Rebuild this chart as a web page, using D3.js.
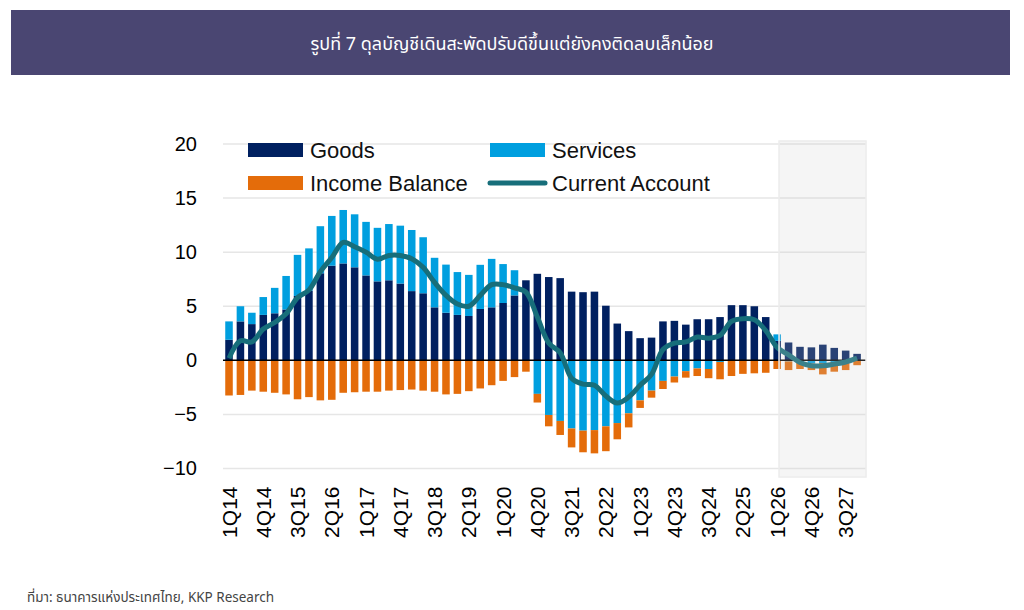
<!DOCTYPE html>
<html>
<head>
<meta charset="utf-8">
<script src="https://cdn.jsdelivr.net/npm/d3@7"></script>
<style>
  body { margin: 0; background: #fff; }
  svg { display: block; }
  text { font-family: "Liberation Sans", Arial, sans-serif; }
  .thai { font-family: "Noto Sans Thai", "Noto Sans", "DejaVu Sans", sans-serif; }
</style>
</head>
<body>
<script>
// quarters 1Q14 .. 4Q27
var quarters = [
  "1Q14","2Q14","3Q14","4Q14","1Q15","2Q15","3Q15","4Q15",
  "1Q16","2Q16","3Q16","4Q16","1Q17","2Q17","3Q17","4Q17",
  "1Q18","2Q18","3Q18","4Q18","1Q19","2Q19","3Q19","4Q19",
  "1Q20","2Q20","3Q20","4Q20","1Q21","2Q21","3Q21","4Q21",
  "1Q22","2Q22","3Q22","4Q22","1Q23","2Q23","3Q23","4Q23",
  "1Q24","2Q24","3Q24","4Q24","1Q25","2Q25","3Q25","4Q25",
  "1Q26","2Q26","3Q26","4Q26","1Q27","2Q27","3Q27","4Q27"
];
var tickLabels = ["1Q14","4Q14","3Q15","2Q16","1Q17","4Q17","3Q18","2Q19","1Q20","4Q20",
  "3Q21","2Q22","1Q23","4Q23","3Q24","2Q25","1Q26","4Q26","3Q27"];

var goods = [1.9,3.6,3.35,4.2,4.35,4.7,5.95,6.45, 8.05,8.75,8.96,8.6,7.85,7.3,7.4,7.1,
  6.4,6.2,4.9,4.4,4.2,4.1,4.75,4.9, 5.3,6.0,7.4,8.0,7.7,7.6,6.35,6.3,
  6.35,5.05,3.4,2.7,2.05,2.1,3.6,3.65, 3.3,3.8,3.8,4.0,5.1,5.1,5.0,4.0,
  1.8,1.65,1.25,1.2,1.45,1.15,0.9,0.6];
var services = [1.7,1.4,1.05,1.65,2.35,3.1,3.8,3.9, 4.35,4.6,4.94,4.9,4.95,4.95,5.2,5.35,
  5.65,5.18,4.58,4.45,3.96,3.8,4.08,4.48, 3.6,2.33,0,-3.1,-5.05,-5.6,-6.3,-6.5,
  -6.45,-6.1,-5.8,-4.9,-3.7,-2.8,-1.9,-1.5, -1.0,-0.75,-0.8,-0.15,-0.05,0,0,0,
  0.6,-0.1,-0.2,-0.3,-0.25,-0.15,-0.1,0];
var income = [-3.25,-3.2,-2.8,-2.9,-3.0,-3.15,-3.6,-3.4, -3.7,-3.65,-3.0,-2.95,-2.9,-2.9,-2.8,-2.75,
  -2.7,-2.8,-2.9,-3.15,-3.1,-2.85,-2.6,-2.3, -1.9,-1.55,-1.05,-0.8,-1.05,-1.3,-1.75,-2.0,
  -2.15,-2.3,-1.5,-1.3,-0.7,-0.65,-0.75,-0.55, -0.6,-0.7,-0.85,-1.6,-1.4,-1.25,-1.2,-1.15,
  -0.8,-0.8,-0.6,-0.6,-1.05,-0.9,-0.8,-0.45];
var currentAccount = [0.2,1.8,1.7,2.9,3.5,4.3,5.8,6.5, 8.2,9.5,10.9,10.5,10.0,9.35,9.7,9.7,
  9.4,8.6,7.2,6.0,5.2,5.0,6.0,7.0, 7.0,6.7,6.3,4.0,1.6,0.7,-1.65,-2.2,
  -2.3,-3.3,-3.95,-3.4,-2.3,-1.3,1.0,1.6, 1.7,2.15,2.05,2.3,3.6,3.85,3.75,2.75,
  1.2,0.5,-0.2,-0.5,-0.5,-0.35,-0.15,0.2];
var yTicks = [-10,-5,0,5,10,15,20];
var forecastStart = "1Q26";

var svg = d3.select("body").append("svg")
    .attr("width", 1024)
    .attr("height", 610);

// title band
svg.append("rect")
    .attr("x", 11).attr("y", 10)
    .attr("width", 999).attr("height", 65)
    .attr("fill", "#4a4672");
svg.append("text")
    .attr("class", "thai")
    .attr("x", 512).attr("y", 50)
    .attr("text-anchor", "middle")
    .attr("fill", "#fff")
    .style("font-size", "18px")
    .text("รูปที่ 7 ดุลบัญชีเดินสะพัดปรับดีขึ้นแต่ยังคงติดลบเล็กน้อย");

var x = d3.scaleBand()
    .domain(quarters)
    .range([223.3, 862.8])
    .paddingInner(0.34)
    .paddingOuter(0.17);

var y = d3.scaleLinear()
    .domain([-10, 20])
    .range([468.5, 144]);

var left = 223, right = 866;

// gridlines
svg.selectAll("line.grid")
    .data(yTicks.filter(function(d) { return d !== 0; }))
    .enter()
    .append("line")
    .attr("class", "grid")
    .attr("x1", left).attr("x2", right)
    .attr("y1", function(d) { return y(d); })
    .attr("y2", function(d) { return y(d); })
    .attr("stroke", "#e6e6e6")
    .attr("stroke-width", 1.5);

// stacked bars
var rows = quarters.map(function(q, i) {
    return { q: q, goods: goods[i], services: services[i], income: income[i] };
});
var keys = ["goods", "services", "income"];
var colors = { goods: "#002060", services: "#009fdf", income: "#e46c0a" };

var series = d3.stack()
    .keys(keys)
    .offset(d3.stackOffsetDiverging)(rows);

svg.selectAll("g.series")
    .data(series)
    .enter()
    .append("g")
    .attr("class", "series")
    .attr("fill", function(s) { return colors[s.key]; })
    .selectAll("rect")
    .data(function(s) { return s; })
    .enter()
    .append("rect")
    .attr("x", function(d) { return x(d.data.q); })
    .attr("width", x.bandwidth())
    .attr("y", function(d) { return y(Math.max(d[0], d[1])); })
    .attr("height", function(d) { return Math.abs(y(d[0]) - y(d[1])); });

// zero line
svg.append("line")
    .attr("x1", left).attr("x2", right)
    .attr("y1", y(0)).attr("y2", y(0))
    .attr("stroke", "#000")
    .attr("stroke-width", 1.5);

// current account line
var line = d3.line()
    .x(function(d, i) { return x(quarters[i]) + x.bandwidth() / 2; })
    .y(function(d) { return y(d); })
    .curve(d3.curveCatmullRom);

svg.append("path")
    .datum(currentAccount)
    .attr("d", line)
    .attr("fill", "none")
    .attr("stroke", "#176e7a")
    .attr("stroke-width", 5)
    .attr("stroke-linejoin", "round");

// forecast shading
var fx = x(forecastStart) + x.bandwidth() * 0.75;
svg.append("rect")
    .attr("x", fx).attr("y", 141)
    .attr("width", right - fx).attr("height", 336)
    .attr("fill", "#cfcfcf")
    .attr("fill-opacity", 0.2)
    .attr("stroke", "#ececec")
    .attr("stroke-width", 1.5);

// y axis
var yAxis = svg.append("g")
    .attr("transform", "translate(" + left + ",0)")
    .call(d3.axisLeft(y).tickValues(yTicks).tickSize(0).tickPadding(26));
yAxis.select(".domain").remove();
yAxis.selectAll("text")
    .style("font-size", "20px")
    .style("font-family", "'Liberation Sans', Arial, sans-serif")
    .attr("fill", "#000");

// x axis
var xAxis = svg.append("g")
    .attr("transform", "translate(0," + y(-10) + ")")
    .call(d3.axisBottom(x).tickValues(tickLabels).tickSize(0));
xAxis.select(".domain").remove();
xAxis.selectAll("text")
    .attr("transform", "rotate(-90)")
    .attr("x", -18)
    .attr("y", 0)
    .attr("dy", "0.36em")
    .attr("text-anchor", "end")
    .style("font-size", "21px")
    .style("font-family", "'Liberation Sans', Arial, sans-serif")
    .attr("fill", "#000");

// legend
var legend = [
    { label: "Goods", type: "rect", color: colors.goods, x: 248, y: 150 },
    { label: "Services", type: "rect", color: colors.services, x: 490, y: 150 },
    { label: "Income Balance", type: "rect", color: colors.income, x: 248, y: 183 },
    { label: "Current Account", type: "line", color: "#176e7a", x: 490, y: 183 }
];
var lg = svg.selectAll("g.legend")
    .data(legend)
    .enter()
    .append("g")
    .attr("class", "legend")
    .attr("transform", function(d) { return "translate(" + d.x + "," + d.y + ")"; });
lg.filter(function(d) { return d.type === "rect"; })
    .append("rect")
    .attr("x", 0).attr("y", -7)
    .attr("width", 55).attr("height", 14)
    .attr("fill", function(d) { return d.color; });
lg.filter(function(d) { return d.type === "line"; })
    .append("line")
    .attr("x1", 0).attr("x2", 55)
    .attr("stroke", function(d) { return d.color; })
    .attr("stroke-width", 5)
    .attr("stroke-linecap", "round");
lg.append("text")
    .attr("x", 62)
    .attr("dy", "0.36em")
    .style("font-size", "22px")
    .attr("fill", "#111")
    .text(function(d) { return d.label; });

// source
svg.append("text")
    .attr("class", "thai")
    .attr("x", 27).attr("y", 602)
    .attr("fill", "#444")
    .style("font-size", "13.5px")
    .text("ที่มา: ธนาคารแห่งประเทศไทย, KKP Research");
</script>
</body>
</html>
